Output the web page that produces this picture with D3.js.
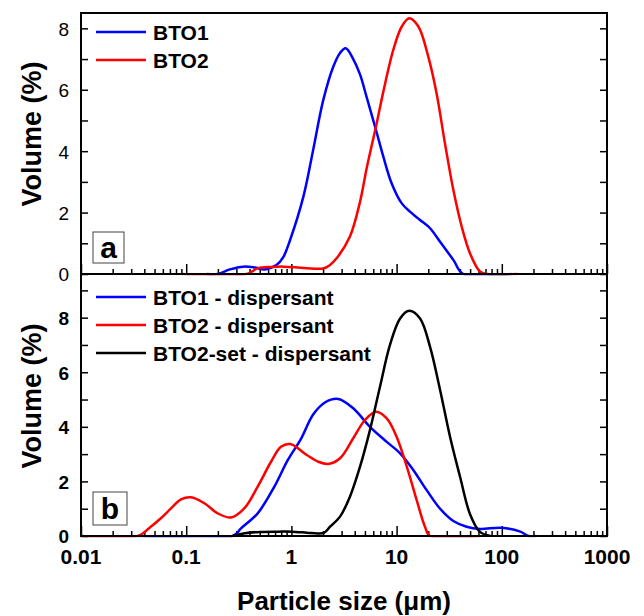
<!DOCTYPE html>
<html>
<head>
<meta charset="utf-8">
<script src="https://cdn.jsdelivr.net/npm/d3@7"></script>
<style>
body { margin: 0; background: #fff; }
text { font-family: "Liberation Sans", Arial, sans-serif; fill: #000; }
.axis path { display: none; }
.axis line { stroke: #000; stroke-width: 1.5px; }
.curve { fill: none; stroke-width: 2.5px; stroke-linejoin: round; }
</style>
</head>
<body>
<svg id="chart" width="644" height="616"></svg>
<script>
// values: size in um, volume in %
// panel a
var bto1_size = [0.157, 0.2, 0.26, 0.35, 0.45, 0.56, 0.72, 0.84, 0.97, 1.3, 1.61, 2.01, 2.5, 2.9, 3.28, 3.87, 4.49, 5.2, 6.37, 7.48, 8.98, 11.2, 13.4, 16.7, 20.8, 25.9, 34.6, 43, 124];
var bto1_vol  = [0, 0, 0.15, 0.24, 0.21, 0.15, 0.29, 0.56, 1.1, 2.52, 4.04, 5.67, 6.75, 7.2, 7.35, 7.0, 6.5, 5.75, 4.69, 3.82, 2.95, 2.3, 2.03, 1.76, 1.49, 1.05, 0.46, 0, 0];

var bto2_size = [0.09, 0.376, 0.48, 0.65, 0.84, 1.1, 1.4, 2.0, 2.3, 2.69, 3.6, 4.49, 5.2, 6.47, 7.48, 9.3, 11.2, 13.2, 16.1, 20, 24, 28.8, 34.6, 41.6, 49.9, 62, 72, 140];
var bto2_vol  = [0, 0, 0.19, 0.23, 0.24, 0.22, 0.19, 0.18, 0.28, 0.51, 1.22, 2.35, 3.45, 4.91, 5.94, 7.3, 8.06, 8.33, 8.06, 7.08, 5.88, 4.26, 2.74, 1.54, 0.67, 0.08, 0, 0];

// panel b
var bto1d_size = [0.0355, 0.277, 0.332, 0.478, 0.689, 0.923, 1.23, 1.61, 2.1, 2.79, 3.87, 5.58, 8.05, 10.8, 14.4, 19.3, 25.9, 34.6, 46.3, 62, 100, 150, 180, 214];
var bto1d_vol  = [0, 0, 0.28, 0.83, 1.81, 2.78, 3.55, 4.45, 4.9, 5.02, 4.68, 4.0, 3.45, 3.03, 2.42, 1.68, 1.0, 0.55, 0.34, 0.26, 0.3, 0.16, 0, 0];

var bto2d_size = [0.01, 0.0346, 0.046, 0.0575, 0.0717, 0.0893, 0.111, 0.149, 0.199, 0.267, 0.356, 0.478, 0.64, 0.796, 0.977, 1.4, 1.8, 2.24, 2.9, 3.87, 5.0, 6.37, 8.05, 10, 12.5, 15.5, 18.6, 20.8, 62];
var bto2d_vol  = [0, 0, 0.34, 0.65, 1.01, 1.34, 1.42, 1.2, 0.83, 0.68, 1.01, 1.81, 2.72, 3.27, 3.37, 2.97, 2.72, 2.64, 2.85, 3.58, 4.25, 4.55, 4.31, 3.64, 2.54, 1.32, 0.34, 0, 0];

var set_size = [0.277, 0.36, 0.5, 0.75, 1.0, 1.4, 1.8, 2.05, 2.33, 2.9, 3.6, 4.49, 5.58, 6.95, 8.65, 10.8, 13.2, 16.7, 20.8, 25.9, 32.2, 40.1, 49.9, 62, 78];
var set_vol  = [0, 0.1, 0.15, 0.16, 0.16, 0.12, 0.09, 0.12, 0.34, 0.71, 1.44, 2.54, 3.88, 5.47, 7.0, 7.97, 8.25, 7.97, 6.93, 5.35, 3.64, 2.17, 0.8, 0.15, 0];

var x_ticks = [0.01, 0.1, 1, 10, 100, 1000];
var x_labels = ["0.01", "0.1", "1", "10", "100", "1000"];
var legend_a = ["BTO1", "BTO2"];
var legend_b = ["BTO1 - dispersant", "BTO2 - dispersant", "BTO2-set - dispersant"];

var svg = d3.select("#chart");
var left = 81, right = 607, top_a = 13, mid = 274, bottom = 536;

var xScale = d3.scaleLog().domain([0.01, 1000]).range([left, right]);
var yA = d3.scaleLinear().domain([0, 8.5]).range([mid, top_a]);
var yB = d3.scaleLinear().domain([0, 9.6]).range([bottom, mid]);

var minor_x = [];
[0.01, 0.1, 1, 10, 100].forEach(function(d) {
	for (var k = 2; k <= 9; k++) minor_x.push(d * k);
});

// clip each panel so the smoothed curves don't dip under the zero line
var defs = svg.append("defs");
defs.append("clipPath").attr("id", "clip_a").append("rect")
	.attr("x", left).attr("y", top_a).attr("width", right - left).attr("height", mid - top_a + 1.3);
defs.append("clipPath").attr("id", "clip_b").append("rect")
	.attr("x", left).attr("y", mid).attr("width", right - left).attr("height", bottom - mid + 1.3);

function drawPanel(yScale, y0, n, boldLabels) {
	// bottom ticks (pointing up into the panel)
	svg.append("g").attr("class", "axis")
		.attr("transform", "translate(0," + y0 + ")")
		.call(d3.axisBottom(xScale).tickValues(x_ticks).tickSize(-10).tickFormat(""));
	svg.append("g").attr("class", "axis")
		.attr("transform", "translate(0," + y0 + ")")
		.call(d3.axisBottom(xScale).tickValues(minor_x).tickSize(-5).tickFormat(""));

	// left and right ticks
	var vals = d3.range(0, n + 1);
	var yl = svg.append("g").attr("class", "axis")
		.attr("transform", "translate(" + left + ",0)")
		.call(d3.axisLeft(yScale).tickValues(vals).tickSize(-7).tickPadding(12)
			.tickFormat(function(d) { return d % 2 == 0 ? d : ""; }));
	yl.selectAll("text")
		.style("font-size", "19px")
		.style("font-weight", boldLabels ? "bold" : "normal")
		.attr("dy", "0.36em");

	svg.append("g").attr("class", "axis")
		.attr("transform", "translate(" + right + ",0)")
		.call(d3.axisRight(yScale).tickValues(vals).tickSize(-7).tickFormat(""));
}

drawPanel(yA, mid, 8, false);
drawPanel(yB, bottom, 9, true);

// curves
function drawCurve(sizes, vols, yScale, color, clip) {
	var pts = sizes.map(function(s, i) { return [s, vols[i]]; });
	var line = d3.line()
		.x(function(d) { return xScale(d[0]); })
		.y(function(d) { return yScale(d[1]); })
		.curve(d3.curveCatmullRom.alpha(0.5));
	svg.append("path")
		.attr("class", "curve")
		.attr("clip-path", "url(#" + clip + ")")
		.attr("stroke", color)
		.attr("d", line(pts));
}

drawCurve(bto1_size, bto1_vol, yA, "#0000ff", "clip_a");
drawCurve(bto2_size, bto2_vol, yA, "#ff0000", "clip_a");
drawCurve(bto1d_size, bto1d_vol, yB, "#0000ff", "clip_b");
drawCurve(bto2d_size, bto2d_vol, yB, "#ff0000", "clip_b");
drawCurve(set_size, set_vol, yB, "#000000", "clip_b");

// frame
svg.append("rect")
	.attr("x", left).attr("y", top_a)
	.attr("width", right - left).attr("height", bottom - top_a)
	.attr("fill", "none").attr("stroke", "#000").attr("stroke-width", 2);
svg.append("line")
	.attr("x1", left).attr("x2", right).attr("y1", mid).attr("y2", mid)
	.attr("stroke", "#000").attr("stroke-width", 2);

// x tick labels
svg.selectAll(".xlab").data(x_ticks).enter().append("text")
	.attr("class", "xlab")
	.attr("x", function(d) { return xScale(d); })
	.attr("y", 564)
	.attr("text-anchor", "middle")
	.style("font-size", "21px").style("font-weight", "bold")
	.text(function(d, i) { return x_labels[i]; });

// axis titles
svg.append("text")
	.attr("transform", "translate(41,134) rotate(-90)")
	.attr("text-anchor", "middle")
	.style("font-size", "27px").style("font-weight", "bold")
	.text("Volume (%)");
svg.append("text")
	.attr("transform", "translate(41,396) rotate(-90)")
	.attr("text-anchor", "middle")
	.style("font-size", "27px").style("font-weight", "bold")
	.text("Volume (%)");
svg.append("text")
	.attr("x", 344).attr("y", 610)
	.attr("text-anchor", "middle")
	.style("font-size", "26px").style("font-weight", "bold")
	.text("Particle size (\u03bcm)");

// legends
function legend(names, colors, y_start) {
	names.forEach(function(name, i) {
		var y = y_start + i * 28;
		svg.append("line")
			.attr("x1", 96).attr("x2", 146).attr("y1", y).attr("y2", y)
			.attr("stroke", colors[i]).attr("stroke-width", 2.5);
		svg.append("text")
			.attr("x", 153).attr("y", y + 7.5)
			.style("font-size", "21px").style("font-weight", "bold")
			.text(name);
	});
}
legend(legend_a, ["#0000ff", "#ff0000"], 32);
legend(legend_b, ["#0000ff", "#ff0000", "#000000"], 297);

// panel letters
function panelLabel(letter, bx, by, bw, bh, base) {
	svg.append("rect")
		.attr("x", bx).attr("y", by).attr("width", bw).attr("height", bh)
		.attr("fill", "#fff").attr("stroke", "#444").attr("stroke-width", 1);
	svg.append("text")
		.attr("x", bx + bw / 2).attr("y", base)
		.attr("text-anchor", "middle")
		.style("font-size", "30px").style("font-weight", "bold")
		.text(letter);
}
panelLabel("a", 93, 232, 31, 31, 258);
panelLabel("b", 93, 492, 34, 33, 519);
</script>
</body>
</html>
